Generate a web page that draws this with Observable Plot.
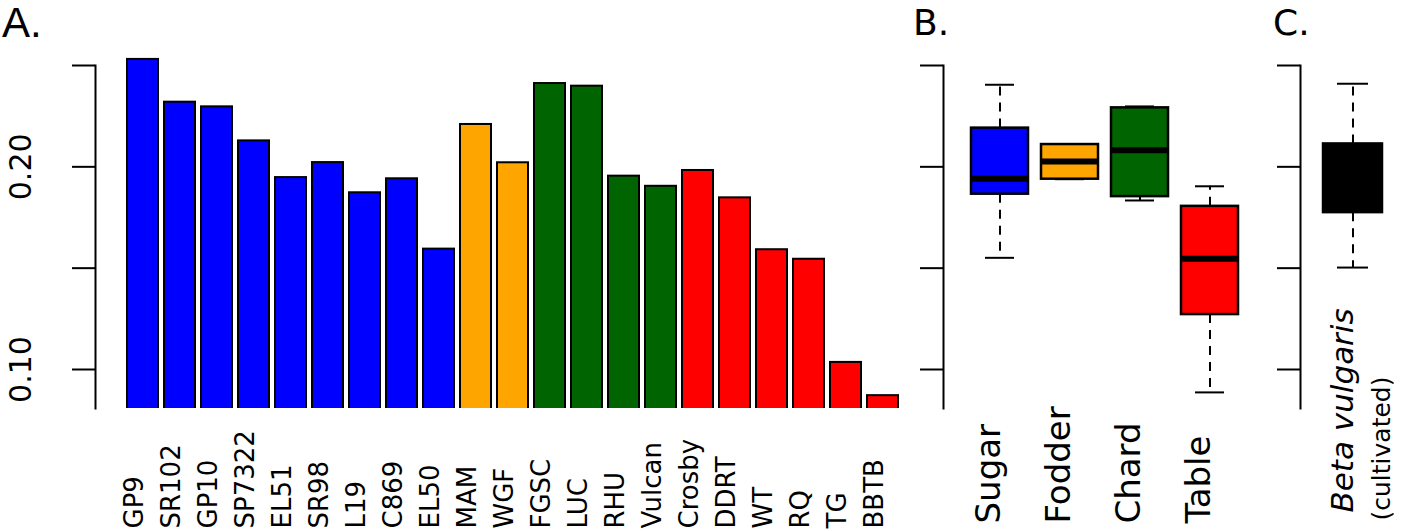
<!DOCTYPE html>
<html>
<head>
<meta charset="utf-8">
<script src="https://cdn.jsdelivr.net/npm/d3@7"></script>
<script src="https://cdn.jsdelivr.net/npm/@observablehq/plot@0.6"></script>
<style>
  body { margin: 0; background: #fff; }
  #wrap { position: relative; width: 1418px; height: 531px; overflow: hidden; background: #fff; }
  .panel { position: absolute; top: 0; }
  .ptitle { position: absolute; line-height: 1; color: #000; white-space: nowrap; }
</style>
</head>
<body>
<div id="wrap"></div>
<script>
// ---------- Data ----------
const cultivars = ["GP9","SR102","GP10","SP7322","EL51","SR98","L19","C869","EL50",
                   "MAM","WGF","FGSC","LUC","RHU","Vulcan","Crosby","DDRT","WT","RQ","TG","BBTB"];
const diversity = [0.2530,0.2319,0.2296,0.2128,0.1947,0.2021,0.1872,0.1941,0.1594,
                   0.2209,0.2020,0.2411,0.2398,0.1954,0.1904,0.1982,0.1847,0.1591,0.1544,0.1035,0.0871];
const cropType  = ["Sugar","Sugar","Sugar","Sugar","Sugar","Sugar","Sugar","Sugar","Sugar",
                   "Fodder","Fodder","Chard","Chard","Chard","Chard",
                   "Table","Table","Table","Table","Table","Table"];

const boxGroups  = ["Sugar","Fodder","Chard","Table"];
const boxLow     = [0.1551, 0.1939, 0.1834, 0.0887];
const boxQ1      = [0.1865, 0.1939, 0.1853, 0.1271];
const boxMedian  = [0.1941, 0.2026, 0.2082, 0.1546];
const boxQ3      = [0.2191, 0.2110, 0.2291, 0.1805];
const boxHigh    = [0.2405, 0.2110, 0.2298, 0.1904];

const speciesGroup = ["Beta vulgaris"];
const speciesLow   = [0.1503];
const speciesQ1    = [0.1774];
const speciesMed   = [0.1950];
const speciesQ3    = [0.2113];
const speciesHigh  = [0.2410];

const typeColors = ["#0000ff", "#ffa500", "#006400", "#ff0000"];
const yTicks  = [0.10, 0.15, 0.20, 0.25];
const yLabels = [0.10, 0.20];
const baseline = 0.07;

// ---------- Shared ----------
const wrap = document.getElementById("wrap");
const yScale = {domain: [0.10, 0.25], range: [369, 65], axis: null};
const colorScale = {domain: boxGroups, range: typeColors};
const font = "DejaVu Sans";

function place(svg, left) {
  svg.classList.add("panel");
  svg.style.left = left + "px";
  wrap.appendChild(svg);
}
function title(txt, left, top, size, family) {
  const d = document.createElement("div");
  d.className = "ptitle";
  d.textContent = txt;
  d.style.left = left + "px";
  d.style.top = top + "px";
  d.style.fontSize = size + "px";
  d.style.fontFamily = family;
  wrap.appendChild(d);
}

// ---------- Panel A ----------
const barData = cultivars.map((c, i) => ({name: c, value: diversity[i], type: cropType[i]}));
const A = Plot.plot({
  width: 910, height: 531,
  marginLeft: 95, marginRight: 0, marginTop: 40, marginBottom: 123,
  x: {type: "band", domain: cultivars, range: [125, 900], paddingInner: 0.2 / 1.2, paddingOuter: 0, axis: null},
  y: yScale,
  color: colorScale,
  style: {background: "transparent", overflow: "visible"},
  marks: [
    Plot.barY(barData, {x: "name", y1: () => baseline, y2: "value", fill: "type", stroke: "black", strokeWidth: 2, clip: true}),
    Plot.frame({anchor: "left", insetTop: 25, strokeWidth: 2}),
    Plot.axisY(yTicks, {tickSize: 23, tickFormat: () => "", strokeWidth: 2, label: null}),
    Plot.text(yLabels, {y: d => d, text: d => d.toFixed(2), frameAnchor: "left", dx: -74, rotate: -90,
      textAnchor: "middle", fontSize: 30, fontFamily: font, fill: "black"}),
    Plot.text(cultivars, {x: d => d, text: d => d, frameAnchor: "bottom", dy: 120, rotate: -90,
      textAnchor: "start", fontSize: 26, fontFamily: font, fill: "black"})
  ]
});
place(A, 0);

// ---------- Panel B ----------
const boxData = boxGroups.map((g, i) => ({group: g, lo: boxLow[i], q1: boxQ1[i], med: boxMedian[i], q3: boxQ3[i], hi: boxHigh[i]}));
const B = Plot.plot({
  width: 335, height: 531,
  marginLeft: 33, marginRight: 0, marginTop: 40, marginBottom: 123,
  x: {type: "band", domain: boxGroups, range: [59, 330], paddingInner: 0.183, paddingOuter: 0, axis: null},
  y: yScale,
  color: colorScale,
  style: {background: "transparent", overflow: "visible"},
  marks: [
    Plot.frame({anchor: "left", insetTop: 25, strokeWidth: 2}),
    Plot.axisY(yTicks, {tickSize: 23, tickFormat: () => "", strokeWidth: 2, label: null}),
    Plot.ruleX(boxData, {x: "group", y1: "q3", y2: "hi", strokeWidth: 2, strokeDasharray: "9,7"}),
    Plot.ruleX(boxData, {x: "group", y1: "q1", y2: "lo", strokeWidth: 2, strokeDasharray: "9,7"}),
    Plot.tickY(boxData, {x: "group", y: "hi", insetLeft: 14, insetRight: 14, strokeWidth: 2}),
    Plot.tickY(boxData, {x: "group", y: "lo", insetLeft: 14, insetRight: 14, strokeWidth: 2}),
    Plot.barY(boxData, {x: "group", y1: "q1", y2: "q3", fill: "group", stroke: "black", strokeWidth: 2.5}),
    Plot.tickY(boxData, {x: "group", y: "med", strokeWidth: 6}),
    Plot.text(boxGroups, {x: d => d, text: d => d, frameAnchor: "bottom", dy: 115, rotate: -90,
      textAnchor: "start", fontSize: 34, fontFamily: font, fill: "black"})
  ]
});
place(B, 910);

// ---------- Panel C ----------
const spData = speciesGroup.map((g, i) => ({group: g, lo: speciesLow[i], q1: speciesQ1[i], med: speciesMed[i], q3: speciesQ3[i], hi: speciesHigh[i]}));
const C = Plot.plot({
  width: 173, height: 531,
  marginLeft: 55, marginRight: 0, marginTop: 40, marginBottom: 123,
  x: {type: "band", domain: speciesGroup, range: [77.5, 136.5], padding: 0, axis: null},
  y: yScale,
  style: {background: "transparent", overflow: "visible"},
  marks: [
    Plot.frame({anchor: "left", insetTop: 25, strokeWidth: 2}),
    Plot.axisY(yTicks, {tickSize: 23, tickFormat: () => "", strokeWidth: 2, label: null}),
    Plot.ruleX(spData, {x: "group", y1: "q3", y2: "hi", strokeWidth: 2, strokeDasharray: "9,7"}),
    Plot.ruleX(spData, {x: "group", y1: "q1", y2: "lo", strokeWidth: 2, strokeDasharray: "9,7"}),
    Plot.tickY(spData, {x: "group", y: "hi", insetLeft: 14, insetRight: 14, strokeWidth: 2}),
    Plot.tickY(spData, {x: "group", y: "lo", insetLeft: 14, insetRight: 14, strokeWidth: 2}),
    Plot.barY(spData, {x: "group", y1: "q1", y2: "q3", fill: "black", stroke: "black", strokeWidth: 2.5}),
    Plot.tickY(spData, {x: "group", y: "med", strokeWidth: 6}),
    Plot.text(speciesGroup, {x: d => d, text: d => d, frameAnchor: "bottom", dy: 104, rotate: -90,
      textAnchor: "start", fontSize: 31, fontStyle: "italic", fontFamily: font, fill: "black"}),
    Plot.text(speciesGroup, {x: d => d, text: () => "(cultivated)", frameAnchor: "bottom", dy: 112, dx: 37, rotate: -90,
      textAnchor: "start", fontSize: 25, fontFamily: font, fill: "black"})
  ]
});
place(C, 1245);

// ---------- Panel titles ----------
title("A.", 2, 1.5, 42, "Liberation Sans");
title("B.", 913, 4.5, 36, font);
title("C.", 1273, 4.5, 36, font);
</script>
</body>
</html>
